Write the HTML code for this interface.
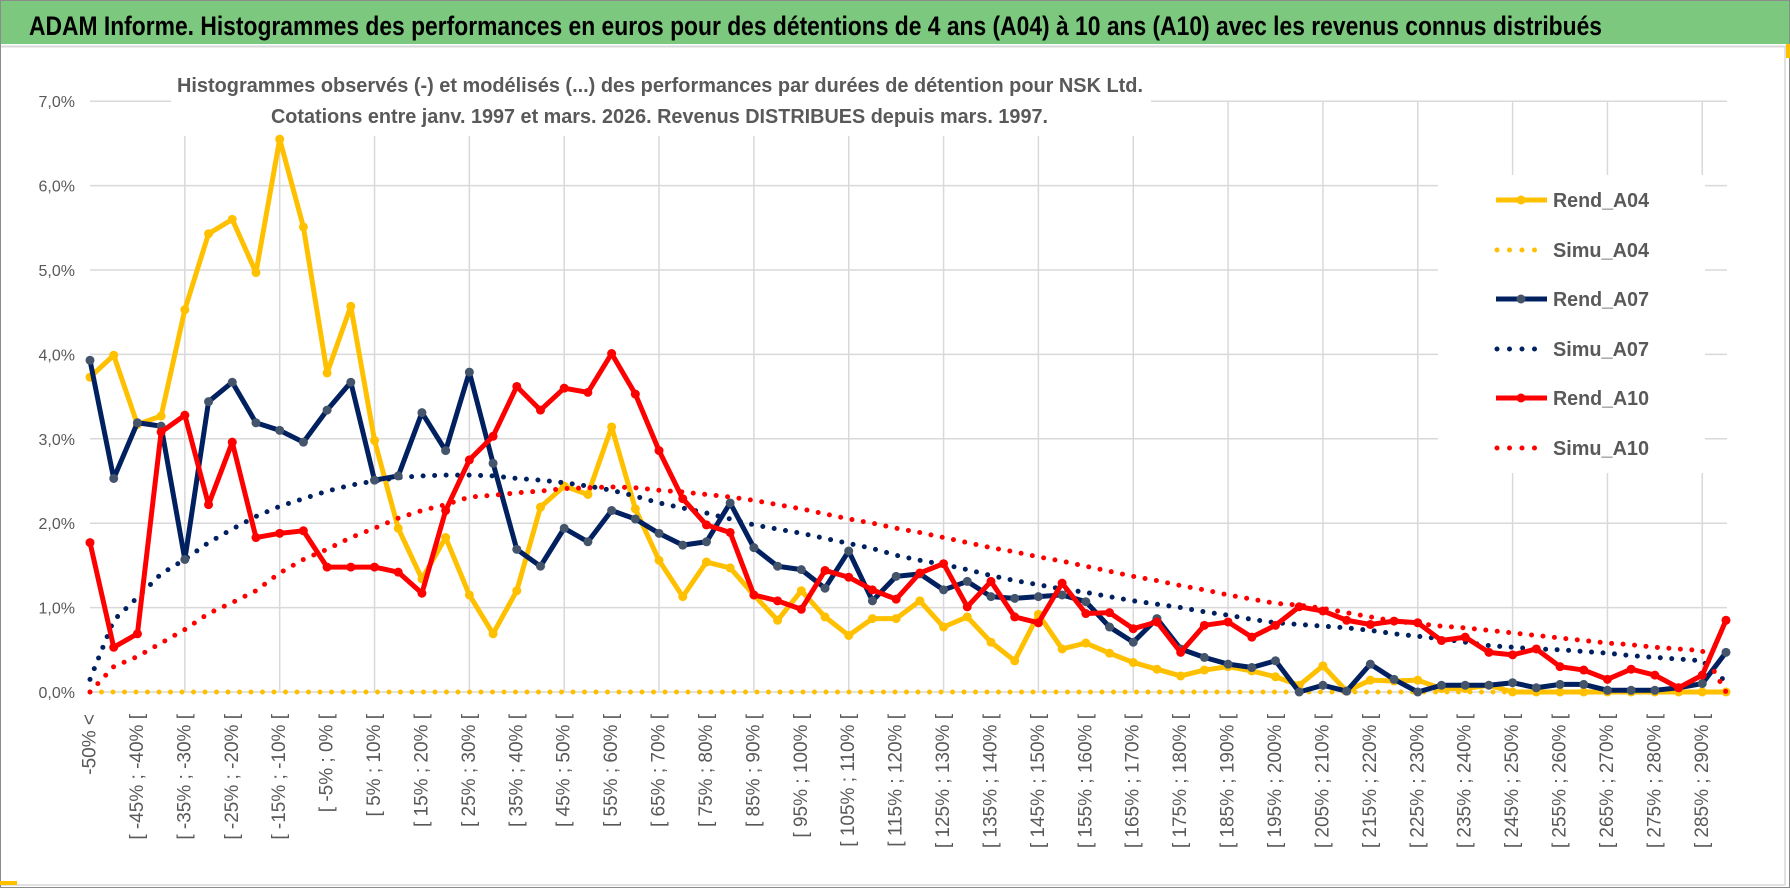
<!DOCTYPE html>
<html><head><meta charset="utf-8">
<style>
html,body{margin:0;padding:0;background:#fff;}
svg{display:block;font-family:"Liberation Sans",sans-serif;}
</style></head>
<body>
<svg id="chart" width="1790" height="888" viewBox="0 0 1790 888" xmlns="http://www.w3.org/2000/svg">
  <rect x="0" y="0" width="1790" height="888" fill="#fff"/>
  <rect x="0" y="0" width="1790" height="44" fill="#7DC87F"/>
  <line x1="0" y1="46.5" x2="1790" y2="46.5" stroke="#d9d9d9" stroke-width="2"/>
  <text x="29" y="35" font-size="27" font-weight="bold" fill="#000" textLength="1573" lengthAdjust="spacingAndGlyphs">ADAM Informe. Histogrammes des performances en euros pour des détentions de 4 ans (A04) à 10 ans (A10) avec les revenus connus distribués</text>
  <g id="grid"></g>
  <rect x="171" y="60" width="980" height="76" fill="#fff"/>
  <text x="177" y="92" font-size="20" font-weight="bold" fill="#595959" textLength="966" lengthAdjust="spacingAndGlyphs">Histogrammes observés (-) et modélisés (...) des performances par durées de détention pour NSK Ltd.</text>
  <text x="271" y="123" font-size="20" font-weight="bold" fill="#595959" textLength="777" lengthAdjust="spacingAndGlyphs">Cotations entre janv. 1997 et mars. 2026. Revenus DISTRIBUES depuis mars. 1997.</text>
  <g id="yaxis"></g>
  <g id="xaxis"></g>
  <g id="series"></g>
  <rect x="1438" y="175" width="267" height="298" fill="#fff"/>
  <g id="legend"></g>
  <rect x="0.5" y="0.5" width="1789" height="887" fill="none" stroke="#8c8c8c" stroke-width="1"/>
  <line x1="1" y1="885" x2="1785" y2="885" stroke="#d9d9d9" stroke-width="1.5"/>
  <line x1="1785" y1="47" x2="1785" y2="885" stroke="#d9d9d9" stroke-width="1.5"/>
  <rect x="0" y="881" width="17" height="4" fill="#FFC000"/>
  <rect x="1786" y="44" width="4" height="14" fill="#FFC000"/>
</svg>
<script>
const yTicks = [0,1,2,3,4,5,6,7];
const yTickLabels = ["0,0%","1,0%","2,0%","3,0%","4,0%","5,0%","6,0%","7,0%"];
const rendA04 = [3.73,3.99,3.17,3.27,4.53,5.43,5.60,4.97,6.55,5.51,
 3.78,4.57,2.98,1.94,1.34,1.83,1.15,0.69,1.20,2.19,
 2.44,2.34,3.14,2.17,1.56,1.13,1.54,1.47,1.15,0.85,
 1.20,0.89,0.67,0.87,0.87,1.08,0.77,0.89,0.59,0.37,
 0.92,0.51,0.58,0.46,0.35,0.27,0.19,0.26,0.30,0.25,
 0.18,0.08,0.31,0.01,0.14,0.13,0.14,0.04,0.04,0.08,
 0.00,0.00,0.00,0.00,0.00,0.00,0.00,0.00,0.00,0.00];
const simuA04 = [0,0,0,0,0,0,0,0,0,0,0,0,0,0,0,0,0,0,0,0,0,0,0,0,0,0,0,0,0,0,0,0,0,0,0,
 0,0,0,0,0,0,0,0,0,0,0,0,0,0,0,0,0,0,0,0,0,0,0,0,0,0,0,0,0,0,0,0,0,0,0];
const rendA07 = [3.93,2.53,3.19,3.15,1.57,3.44,3.67,3.19,3.10,2.96,
 3.34,3.67,2.51,2.56,3.31,2.86,3.79,2.71,1.69,1.49,
 1.94,1.78,2.15,2.05,1.88,1.74,1.78,2.24,1.71,1.49,
 1.45,1.23,1.67,1.08,1.37,1.40,1.21,1.31,1.13,1.11,
 1.13,1.15,1.07,0.77,0.59,0.87,0.51,0.41,0.33,0.29,
 0.37,0.00,0.08,0.01,0.33,0.15,0.00,0.08,0.08,0.08,
 0.11,0.05,0.09,0.09,0.02,0.02,0.02,0.05,0.10,0.47];
const simuA07 = [0.15,0.85,1.12,1.40,1.57,1.77,1.93,2.08,2.20,2.29,
 2.38,2.45,2.50,2.54,2.56,2.57,2.57,2.56,2.53,2.51,
 2.48,2.44,2.39,2.32,2.24,2.18,2.12,2.05,1.98,1.93,
 1.88,1.82,1.76,1.70,1.62,1.56,1.51,1.45,1.38,1.32,
 1.27,1.22,1.18,1.13,1.08,1.04,1.00,0.95,0.91,0.86,
 0.82,0.80,0.78,0.76,0.73,0.69,0.66,0.63,0.59,0.55,
 0.53,0.51,0.50,0.48,0.46,0.43,0.41,0.39,0.37,0.12];
const rendA10 = [1.77,0.53,0.69,3.08,3.28,2.22,2.96,1.83,1.88,1.91,
 1.48,1.48,1.48,1.42,1.17,2.15,2.75,3.03,3.62,3.34,
 3.60,3.55,4.01,3.53,2.86,2.29,1.98,1.89,1.15,1.08,
 0.98,1.44,1.36,1.21,1.10,1.41,1.52,1.01,1.31,0.89,
 0.82,1.29,0.93,0.94,0.75,0.83,0.47,0.79,0.83,0.65,
 0.79,1.01,0.96,0.85,0.80,0.84,0.82,0.61,0.65,0.47,
 0.44,0.51,0.30,0.26,0.15,0.27,0.20,0.05,0.20,0.85];
const simuA10 = [0.00,0.30,0.42,0.58,0.74,0.93,1.06,1.20,1.41,1.57,
 1.69,1.83,1.94,2.06,2.15,2.22,2.31,2.33,2.36,2.38,
 2.41,2.42,2.43,2.42,2.39,2.37,2.34,2.31,2.27,2.22,
 2.17,2.11,2.05,2.00,1.94,1.89,1.83,1.77,1.71,1.66,
 1.60,1.55,1.49,1.43,1.37,1.32,1.26,1.21,1.15,1.10,
 1.05,1.03,0.99,0.94,0.89,0.84,0.81,0.78,0.76,0.73,
 0.70,0.67,0.64,0.61,0.58,0.56,0.53,0.51,0.49,0.00];
const categories = ["-50% <"];
for (let k = 0; k < 69; k++) { const a = -50 + 5*k; categories.push("[ " + a + "% ; " + (a+5) + "% ["); }

const NS = "http://www.w3.org/2000/svg";
const X0 = 90, STEP = 23.71, Y0 = 692, PER = 84.4, XR = 1727;
function xScale(i){ return X0 + STEP*i; }
function yScale(v){ return Y0 - PER*v; }
function mk(tag, attrs, parent){ const e = document.createElementNS(NS, tag); for (const k in attrs) e.setAttribute(k, attrs[k]); parent.appendChild(e); return e; }

const grid = document.getElementById('grid');
yTicks.forEach((t) => {
  const l = mk('line', {x1:X0, x2:XR, y1:yScale(t), y2:yScale(t), stroke:'#d9d9d9', 'stroke-width':1.5}, grid);
  
  
});
for (let i = 4; i < categories.length; i += 4) {
  const l = mk('line', {x1:xScale(i), x2:xScale(i), y1:yScale(7), y2:Y0, stroke:'#d9d9d9', 'stroke-width':1.5}, grid);
  
  
}

const yaxis = document.getElementById('yaxis');
yTicks.forEach((t, k) => {
  const tx = mk('text', {x:75, y:yScale(t)+6, 'text-anchor':'end', 'font-size':16, fill:'#595959'}, yaxis);
  tx.textContent = yTickLabels[k];
  
  
});

const xaxis = document.getElementById('xaxis');
categories.forEach((c, i) => {
  if (i % 2 !== 0) return;
  const x = xScale(i);
  const tx = mk('text', {x:0, y:0, 'text-anchor':'end', 'font-size':19, fill:'#595959', 'dominant-baseline':'central', transform:'translate(' + x + ',714) rotate(-90)'}, xaxis);
  tx.textContent = c;
  
  
});

const series = document.getElementById('series');
function pathD(vals){ return vals.map((v,i) => (i ? 'L' : 'M') + xScale(i).toFixed(2) + ' ' + yScale(v).toFixed(2)).join(' '); }
function dotted(vals, color, name){
  const p = mk('path', {d:pathD(vals), fill:'none', stroke:color, 'stroke-width':5, 'stroke-linecap':'round', 'stroke-dasharray':'0 11.5'}, series);
  
  
}
function solid(vals, color, mcolor, name){
  const g = mk('g', {}, series);
  
  
  const p = mk('path', {d:pathD(vals), fill:'none', stroke:color, 'stroke-width':5, 'stroke-linejoin':'round'}, g);
  
  
  vals.forEach((v,i) => {
    const c = mk('circle', {cx:xScale(i), cy:yScale(v), r:4.5, fill:mcolor}, g);
    
    
  });
}
dotted(simuA04, '#FFC000', 'simu-a04');
solid(rendA04, '#FFC000', '#FFC000', 'rend-a04');
dotted(simuA07, '#002060', 'simu-a07');
solid(rendA07, '#002060', '#44546A', 'rend-a07');
dotted(simuA10, '#FF0000', 'simu-a10');
solid(rendA10, '#FF0000', '#FF0000', 'rend-a10');

const legendItems = [
  ['Rend_A04','#FFC000','#FFC000',false],
  ['Simu_A04','#FFC000',null,true],
  ['Rend_A07','#002060','#44546A',false],
  ['Simu_A07','#002060',null,true],
  ['Rend_A10','#FF0000','#FF0000',false],
  ['Simu_A10','#FF0000',null,true]
];
const legendY = [200,250,299,349,398,448];
const legend = document.getElementById('legend');
legendItems.forEach((it, k) => {
  const y = legendY[k];
  const g = mk('g', {}, legend);
  
  
  if (it[3]) {
    mk('line', {x1:1497, x2:1547, y1:y, y2:y, stroke:it[1], 'stroke-width':5, 'stroke-linecap':'round', 'stroke-dasharray':'0 12.5'}, g);
  } else {
    mk('line', {x1:1496, x2:1547, y1:y, y2:y, stroke:it[1], 'stroke-width':5}, g);
    mk('circle', {cx:1521, cy:y, r:4.5, fill:it[2]}, g);
  }
  const tx = mk('text', {x:1553, y:y+7, 'font-size':20, 'font-weight':'bold', fill:'#595959', textLength:96, lengthAdjust:'spacingAndGlyphs'}, g);
  tx.textContent = it[0];
  
  
});
</script>
</body></html>
